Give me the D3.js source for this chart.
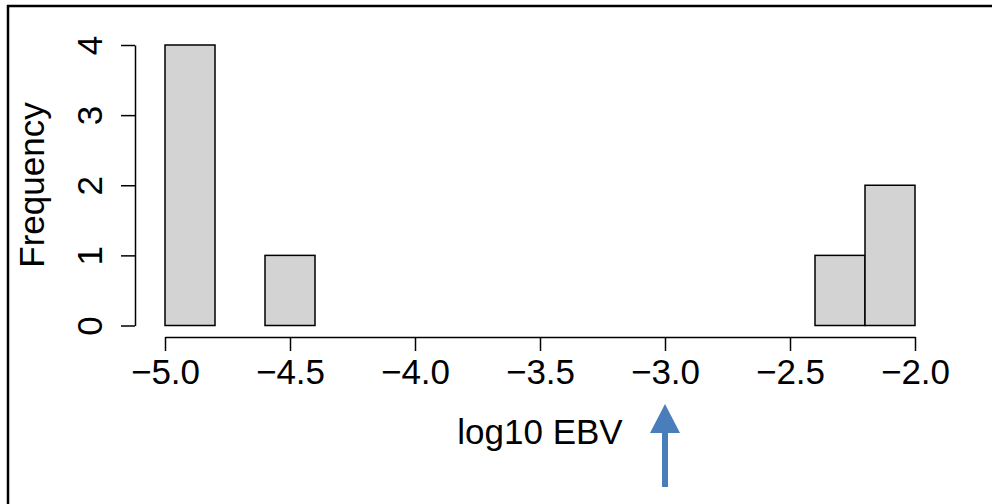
<!DOCTYPE html>
<html><head><meta charset="utf-8">
<script src="https://cdn.jsdelivr.net/npm/d3@7"></script>
<style>html,body{margin:0;padding:0;background:#fff;}svg{display:block;}</style>
</head><body>
<script>
const breaks = [-5.0,-4.8,-4.6,-4.4,-4.2,-4.0,-3.8,-3.6,-3.4,-3.2,-3.0,-2.8,-2.6,-2.4,-2.2,-2.0];
const counts = [4,0,1,0,0,0,0,0,0,0,0,0,0,1,2];
const xTicks = [-5.0,-4.5,-4.0,-3.5,-3.0,-2.5,-2.0];
const yTicks = [0,1,2,3,4];
const xLabel = "log10 EBV";
const yLabel = "Frequency";
const arrowAt = -3.0;

const W = 992, H = 504;
const svg = d3.select("body").append("svg").attr("width", W).attr("height", H);
const font = "Liberation Sans, Arial, sans-serif";

const x = d3.scaleLinear().domain([-5, -2]).range([165, 915]);
const y = d3.scaleLinear().domain([0, 4]).range([325.5, 45]);

// frame
svg.append("line").attr("x1", 7).attr("x2", W).attr("y1", 6).attr("y2", 6).attr("stroke", "#000").attr("stroke-width", 2.5);
svg.append("line").attr("x1", 8).attr("x2", 8).attr("y1", 5).attr("y2", H).attr("stroke", "#000").attr("stroke-width", 2.5);

// bars
const bins = counts.map((c, i) => ({x0: breaks[i], x1: breaks[i + 1], c}));
svg.append("g").selectAll("rect").data(bins).join("rect")
  .attr("x", d => x(d.x0)).attr("width", d => x(d.x1) - x(d.x0))
  .attr("y", d => y(d.c)).attr("height", d => y(0) - y(d.c))
  .attr("fill", "#d3d3d3").attr("stroke", "#000").attr("stroke-width", 1.5);

// x axis
const xa = svg.append("g").attr("transform", "translate(0,337)")
  .call(d3.axisBottom(x).tickValues(xTicks).tickFormat(d3.format(".1f")).tickSize(14).tickSizeOuter(0).tickPadding(8));
xa.select(".domain").attr("stroke-width", 1.5);
xa.selectAll(".tick line").attr("stroke-width", 1.5);
xa.selectAll("text").attr("font-family", font).attr("font-size", 35).attr("fill", "#000");

// y axis
const ya = svg.append("g").attr("transform", "translate(135,0)")
  .call(d3.axisLeft(y).tickValues(yTicks).tickFormat(d3.format("d")).tickSize(14).tickSizeOuter(0).tickPadding(6));
ya.select(".domain").attr("stroke-width", 1.5);
ya.selectAll(".tick line").attr("stroke-width", 1.5);
ya.selectAll("text").attr("font-family", font).attr("font-size", 35).attr("fill", "#000")
  .attr("x", null).attr("dy", null)
  .attr("text-anchor", "middle")
  .attr("transform", "translate(-33,0) rotate(-90)");

// axis labels
svg.append("text").attr("x", 540).attr("y", 444).attr("text-anchor", "middle")
  .attr("font-family", font).attr("font-size", 35).text(xLabel);
svg.append("text").attr("transform", "translate(44,185) rotate(-90)").attr("text-anchor", "middle")
  .attr("font-family", font).attr("font-size", 35).text(yLabel);

// arrow
const ax = x(arrowAt);
svg.append("rect").attr("x", ax - 3).attr("y", 432).attr("width", 6).attr("height", 55).attr("fill", "#4a7ebb");
svg.append("path").attr("d", `M${ax},404 L${ax - 15},433 L${ax + 15},433 Z`).attr("fill", "#4a7ebb");
</script>
</body></html>
